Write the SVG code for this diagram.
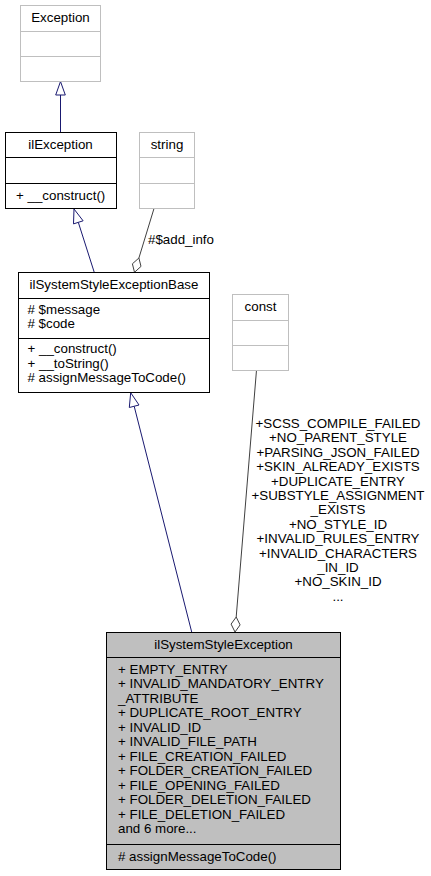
<svg xmlns="http://www.w3.org/2000/svg" width="431" height="876" viewBox="0 0 431 876">
<style>
text{font-family:"Liberation Sans",Arial,sans-serif;font-size:13.33px;fill:#000}
.c{text-anchor:middle}
.ext{fill:#fff;stroke:#bfbfbf;stroke-width:1}
.ext-l{stroke:#bfbfbf;stroke-width:1}
.box{fill:#fff;stroke:#000;stroke-width:1}
.cur{fill:#bfbfbf;stroke:#000;stroke-width:1}
.ln{stroke:#000;stroke-width:1}
.gen{stroke:#191970;stroke-width:1;fill:none}
.genh{stroke:#191970;stroke-width:1;fill:#fff}
.agg{stroke:#404040;stroke-width:1;fill:none}
.aggh{stroke:#404040;stroke-width:1;fill:#fff}
</style>
<rect width="431" height="876" fill="#fff"/>
<g id="connectors">
<line class="gen" x1="60.5" y1="95" x2="60.5" y2="132.5"/>
<polygon class="genh" points="60.5,81.5 55.7,95 65.3,95"/>
<line class="gen" x1="78.3" y1="222.3" x2="94.3" y2="272.5"/>
<polygon class="genh" points="74,209 83.1,220.8 73.5,223.9"/>
<line class="agg" x1="138.9" y1="258" x2="154" y2="208.5"/>
<polygon class="aggh" points="134.5,272.3 141,266.4 138.9,258 132.4,263.8"/>
<text x="181" y="243.5" class="c">#$add_info</text>
<line class="gen" x1="134.2" y1="406.3" x2="191.7" y2="632"/>
<polygon class="genh" points="130.7,392.7 139,405 129.3,407.5"/>
<line class="agg" x1="236.2" y1="617" x2="256.5" y2="370"/>
<polygon class="aggh" points="235,632 240.1,624.9 236.2,617 231.1,624.1"/>
<g class="c">
<text x="338" y="428">+SCSS_COMPILE_FAILED</text>
<text x="338" y="442.4">+NO_PARENT_STYLE</text>
<text x="338" y="456.8">+PARSING_JSON_FAILED</text>
<text x="338" y="471.2">+SKIN_ALREADY_EXISTS</text>
<text x="338" y="485.6">+DUPLICATE_ENTRY</text>
<text x="338" y="500">+SUBSTYLE_ASSIGNMENT</text>
<text x="338" y="514.4">_EXISTS</text>
<text x="338" y="528.8">+NO_STYLE_ID</text>
<text x="338" y="543.2">+INVALID_RULES_ENTRY</text>
<text x="338" y="557.6">+INVALID_CHARACTERS</text>
<text x="338" y="572">_IN_ID</text>
<text x="338" y="586.4">+NO_SKIN_ID</text>
<text x="338" y="600.8">...</text>
</g>
</g>
<g id="Exception">
<rect class="ext" x="20.5" y="5.5" width="80" height="76"/>
<line class="ext-l" x1="20.5" y1="31.5" x2="100.5" y2="31.5"/>
<line class="ext-l" x1="20.5" y1="56.5" x2="100.5" y2="56.5"/>
<text x="60.5" y="22" class="c">Exception</text>
</g>
<g id="ilException">
<rect class="box" x="5.5" y="132.5" width="111" height="76"/>
<line class="ln" x1="5.5" y1="157.5" x2="116.5" y2="157.5"/>
<line class="ln" x1="5.5" y1="183.5" x2="116.5" y2="183.5"/>
<text x="60.5" y="149" class="c">ilException</text>
<text x="16" y="200">+ __construct()</text>
</g>
<g id="string">
<rect class="ext" x="139.5" y="132.5" width="55" height="76"/>
<line class="ext-l" x1="139.5" y1="157.5" x2="194.5" y2="157.5"/>
<line class="ext-l" x1="139.5" y1="183.5" x2="194.5" y2="183.5"/>
<text x="167" y="149" class="c">string</text>
</g>
<g id="ilSystemStyleExceptionBase">
<rect class="box" x="18.5" y="272.5" width="191" height="120"/>
<line class="ln" x1="18.5" y1="298.5" x2="209.5" y2="298.5"/>
<line class="ln" x1="18.5" y1="338.5" x2="209.5" y2="338.5"/>
<text x="114" y="289" class="c">ilSystemStyleExceptionBase</text>
<text x="27.5" y="313.5"># $message</text>
<text x="27.5" y="328"># $code</text>
<text x="27.5" y="353">+ __construct()</text>
<text x="27.5" y="367.5">+ __toString()</text>
<text x="27.5" y="382"># assignMessageToCode()</text>
</g>
<g id="const">
<rect class="ext" x="232.5" y="294.5" width="56" height="76"/>
<line class="ext-l" x1="232.5" y1="320.5" x2="288.5" y2="320.5"/>
<line class="ext-l" x1="232.5" y1="345.5" x2="288.5" y2="345.5"/>
<text x="260.5" y="310.5" class="c">const</text>
</g>
<g id="ilSystemStyleException">
<rect class="cur" x="106.5" y="632.5" width="234" height="237"/>
<line class="ln" x1="106.5" y1="657.5" x2="340.5" y2="657.5"/>
<line class="ln" x1="106.5" y1="844.5" x2="340.5" y2="844.5"/>
<text x="223.5" y="648.5" class="c">ilSystemStyleException</text>
<text x="118" y="673.5">+ EMPTY_ENTRY</text>
<text x="118" y="688">+ INVALID_MANDATORY_ENTRY</text>
<text x="118" y="702.5">_ATTRIBUTE</text>
<text x="118" y="717">+ DUPLICATE_ROOT_ENTRY</text>
<text x="118" y="731.5">+ INVALID_ID</text>
<text x="118" y="746">+ INVALID_FILE_PATH</text>
<text x="118" y="760.5">+ FILE_CREATION_FAILED</text>
<text x="118" y="775">+ FOLDER_CREATION_FAILED</text>
<text x="118" y="789.5">+ FILE_OPENING_FAILED</text>
<text x="118" y="804">+ FOLDER_DELETION_FAILED</text>
<text x="118" y="818.5">+ FILE_DELETION_FAILED</text>
<text x="118" y="833">and 6 more...</text>
<text x="118" y="861"># assignMessageToCode()</text>
</g>
</svg>
